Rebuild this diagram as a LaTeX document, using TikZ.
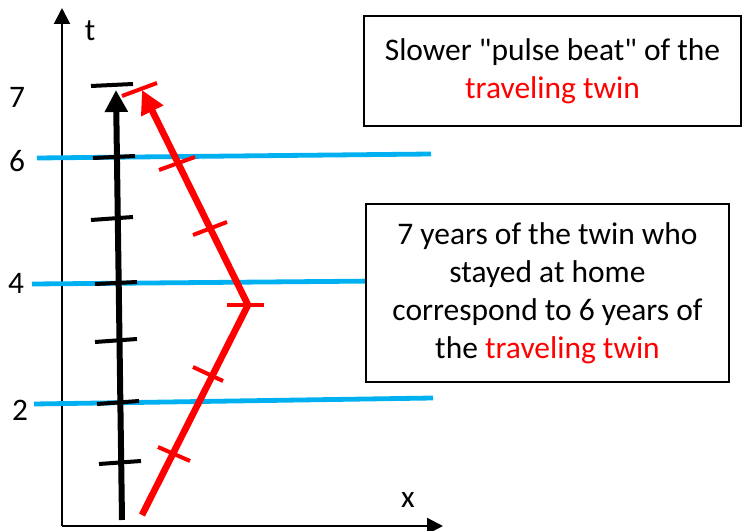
\documentclass[tikz,border=0pt]{standalone}
\usepackage{fontspec}
\setmainfont{Carlito}
\newfontfamily\calfont{Carlito}
\usetikzlibrary{arrows.meta}
\definecolor{skyb}{RGB}{0,176,240}
\definecolor{tred}{RGB}{255,0,0}
\tikzset{
  axis/.style={line width=1.5pt,-{Triangle[length=12pt,width=12pt]}},
  home/.style={line width=4.5pt,-{Triangle[length=16.5pt,width=16.5pt]}},
  trav/.style={line width=5pt,tred,line join=miter,-{Triangle[length=17.5pt,width=17.5pt]}},
  simline/.style={line width=3.6pt,skyb},
  htick/.style={line width=3pt,black},
  rtick/.style={line width=3pt,tred},
  lbl/.style={font=\calfont\fontsize{23.5}{28}\selectfont,inner sep=0pt},
  infobox/.style={draw,line width=1.2pt,fill=white,align=center,inner sep=0pt,
    font=\calfont\fontsize{23.6}{28.5}\selectfont}
}
\begin{document}
\begin{tikzpicture}[x=0.75pt,y=-0.75pt]
\useasboundingbox (0,0) rectangle (743,531);
% axes
\coordinate (O) at (62,526);
\coordinate (tend) at (62,8);
\coordinate (xend) at (443,526);
\draw[axis] (O) -- (tend);
\draw[axis] (O) -- (xend);
\node[lbl] (tlab) at (90,31) {t};
\node[lbl] (xlab) at (408,500) {x};
\node[lbl] (n7) at (17,97) {7};
\node[lbl] (n6) at (17,161) {6};
\node[lbl] (n4) at (16,283) {4};
\node[lbl] (n2) at (20,410) {2};
% simultaneity lines
\coordinate (s6a) at (37,158); \coordinate (s6b) at (431,154);
\coordinate (s4a) at (32,284); \coordinate (s4b) at (380,281);
\coordinate (s2a) at (34,404); \coordinate (s2b) at (433,398);
\draw[simline] (s6a) -- (s6b);
\draw[simline] (s4a) -- (s4b);
\draw[simline] (s2a) -- (s2b);
% home twin
\coordinate (hb) at (122,520);
\coordinate (ht) at (116,90);
\draw[home] (hb) -- (ht);
\draw[htick] (91,86) -- (133,84);
\draw[htick] (93,158) -- (135,156);
\draw[htick] (91,220) -- (133,217);
\draw[htick] (95,284) -- (137,282);
\draw[htick] (95,342) -- (137,339);
\draw[htick] (97,404) -- (139,401);
\draw[htick] (99,464) -- (141,461);
% traveling twin
\coordinate (rb) at (142,515);
\coordinate (ra) at (248,305);
\coordinate (rt) at (142,90);
\draw[trav] (rb) -- (ra) -- (rt);
\draw[rtick] (122,96) -- (157,83);
\draw[rtick] (159,170) -- (195,157);
\draw[rtick] (193,235) -- (227,222);
\draw[rtick] (227,305) -- (264,305);
\draw[rtick] (193,367) -- (223,381);
\draw[rtick] (158,447) -- (190,461);
% boxes
\node[infobox,minimum width=282.75pt,minimum height=82.5pt] (box1) at (552.5,71)
  {Slower "pulse beat" of the\\\textcolor{tred}{traveling twin}};
\node[infobox,minimum width=272.25pt,minimum height=133.5pt] (box2) at (547.5,293)
  {7 years of the twin who\\stayed at home\\correspond to 6 years of\\the \textcolor{tred}{traveling twin}};
\end{tikzpicture}
\end{document}
